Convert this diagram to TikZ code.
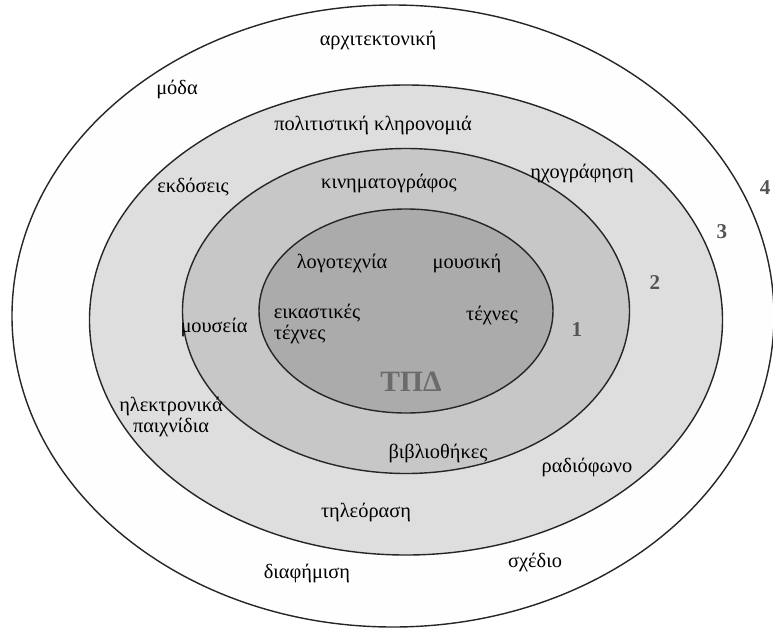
\documentclass[tikz,border=0pt]{standalone}
\usepackage{fontspec}
\setmainfont{Liberation Serif}
\usepackage{tikz}
\usepackage{tkz-euclide}
\usetikzlibrary{calc}

\definecolor{ringfour}{gray}{0.995}
\definecolor{ringthree}{gray}{0.87}
\definecolor{ringtwo}{gray}{0.78}
\definecolor{ringone}{gray}{0.67}
\definecolor{numgray}{gray}{0.33}
\definecolor{tpdgray}{gray}{0.42}

\tikzset{
    ring/.style={draw=black!85, line width=1pt},
    lbl/.style={font=\fontsize{14.5}{15.5}\selectfont, inner sep=1pt},
    num/.style={font=\fontsize{15}{16}\selectfont\bfseries, text=numgray},
}

\begin{document}
\begin{tikzpicture}
                    \useasboundingbox (-10.15,-7.975) rectangle (9.175,7.775);

                    \tkzDefPoint(0,0){O}
                    \tkzDefShiftPoint[O](-0.325,-0.125){C4}
                    \tkzDefShiftPoint[O](0,-0.225){C3}

                    \filldraw[ring, fill=ringfour] (C4) ellipse (9.525 and 7.775);
                    \filldraw[ring, fill=ringthree] (C3) ellipse (7.9125 and 5.875);
                    \filldraw[ring, fill=ringtwo] (O) ellipse (5.5875 and 4.0625);
                    \filldraw[ring, fill=ringone] (O) ellipse (3.675 and 2.55);

                    \node[lbl] (arch) at (-0.7,6.775) {αρχιτεκτονική};
                    \node[lbl] (moda) at (-5.725,5.55) {μόδα};
                    \node[lbl] (diaf) at (-2.475,-6.55) {διαφήμιση};
                    \node[lbl] (sxed) at (3.225,-6.275) {σχέδιο};

                    \node[lbl] (klir) at (-0.825,4.65) {πολιτιστική κληρονομιά};
                    \node[lbl] (ekd) at (-5.325,3.1) {εκδόσεις};
                    \node[lbl] (ixog) at (4.4,3.45) {ηχογράφηση};
                    \node[lbl, align=center] (paix) at (-5.875,-2.65) {ηλεκτρονικά\\παιχνίδια};
                    \node[lbl] (radio) at (4.525,-3.9) {ραδιόφωνο};
                    \node[lbl] (tileo) at (-1.0,-5.025) {τηλεόραση};

                    \node[lbl] (kin) at (-0.425,3.2) {κινηματογράφος};
                    \node[lbl] (mous) at (-4.8,-0.4) {μουσεία};
                    \node[lbl] (vivl) at (0.8,-3.55) {βιβλιοθήκες};

                    \node[lbl] (logo) at (-1.6,1.2) {λογοτεχνία};
                    \node[lbl] (mousik) at (1.525,1.2) {μουσική};
                    \node[lbl, align=left] (eikast) at (-2.225,-0.325) {εικαστικές\\τέχνες};
                    \node[lbl] (texnes) at (2.15,-0.1) {τέχνες};
                    \node[font=\fontsize{21}{22}\selectfont\bfseries, text=tpdgray] (tpd) at (0.125,-1.775) {ΤΠΔ};

                    \node[num] (n1) at (4.275,-0.475) {1};
                    \node[num] (n2) at (6.225,0.7) {2};
                    \node[num] (n3) at (7.9,1.975) {3};
                    \node[num] (n4) at (8.98,3.075) {4};
\end{tikzpicture}
\end{document}
